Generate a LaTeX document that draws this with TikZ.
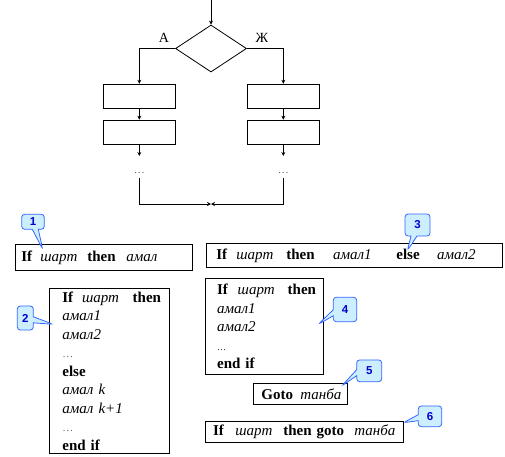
\documentclass[tikz,border=0pt]{standalone}
\usepackage{fontspec}
\setmainfont{Liberation Serif}
\newfontfamily\numfont{Liberation Sans}
\usetikzlibrary{shapes.geometric,shapes.callouts,arrows.meta}
\definecolor{notefill}{RGB}{204,238,255}
\definecolor{noteline}{RGB}{51,102,255}
\definecolor{noteblue}{RGB}{0,0,204}
% слово в поле заданной ширины
\newcommand{\wordbox}[2]{\makebox[#1][l]{#2}}
\newcommand{\dotsgray}{\textcolor{black!60}{\fontsize{11}{11}\selectfont …}}
\tikzset{
  arr/.style={-{Stealth[length=4pt,width=4pt]}},
  block/.style={draw, minimum width=72pt, minimum height=24pt, inner sep=0pt},
  codebox/.style={draw, inner xsep=#1, inner ysep=0pt, align=left, anchor=north west,
    font=\fontsize{15}{18.5}\selectfont},
  note/.style={rectangle callout, draw=noteline, fill=notefill, rounded corners=3pt,
    inner sep=0pt, text=noteblue, callout pointer width=6pt,
    font=\numfont\bfseries\fontsize{11.5}{11.5}\selectfont},
}
\begin{document}
\begin{tikzpicture}[x=1pt, y=-1pt, line width=0.8pt]
\useasboundingbox (0,0) rectangle (505,456);

% блок-схема
\coordinate (start) at (211,0);
\node[diamond, draw, minimum width=71pt, minimum height=47pt, inner sep=0pt] (cond) at (211,48.5) {};
\node[font=\fontsize{14}{14}\selectfont] (yes) at (164,38) {А};
\node[font=\fontsize{14}{14}\selectfont] (no) at (262,38) {Ж};
\node[block] (l1) at (139.3,96.2) {};
\node[block] (l2) at (139.3,132.1) {};
\node[block] (r1) at (283.3,96.2) {};
\node[block] (r2) at (283.3,132.1) {};
\coordinate (l3) at (139.3,156);
\coordinate (r3) at (283.3,156);
\node[inner ysep=4pt] (ldots) at (139.3,173) {\dotsgray};
\node[inner ysep=4pt] (rdots) at (283.3,173) {\dotsgray};
\coordinate (join) at (211,204);

\draw[arr] (start) -- (cond.north);
\draw[arr] (cond.west) -| (l1.north);
\draw[arr] (cond.east) -| (r1.north);
\draw[arr] (l1) -- (l2);
\draw[arr] (r1) -- (r2);
\draw[arr] (l2) -- (l3);
\draw[arr] (r2) -- (r3);
\draw[arr] (ldots.south) |- (join);
\draw[arr] (rdots.south) |- (join);

% шарт операторлары
\node[codebox=6pt, text width=164.7pt, minimum height=25.7pt] (b1) at (15,244.3)
  {\wordbox{19pt}{\textbf{If}}\wordbox{47pt}{\textit{шарт}}\wordbox{39pt}{\textbf{then}}\textit{амал}};
\node[codebox=10pt, text width=275.7pt, minimum height=24pt] (b3) at (206,243.3)
  {\wordbox{20pt}{\textbf{If}}\wordbox{50pt}{\textit{шарт}}\wordbox{46.7pt}{\textbf{then}}\wordbox{63.3pt}{\textit{амал1}}\wordbox{40.7pt}{\textbf{else}}\textit{амал2}};
\node[codebox=12.7pt, text width=94.6pt, minimum height=165pt] (b2) at (49.3,288.3)
  {\wordbox{19.7pt}{\textbf{If}}\wordbox{50.6pt}{\textit{шарт}}\textbf{then}\\
   \textit{амал1}\\
   \textit{амал2}\\
   \dotsgray\\
   \textbf{else}\\
   \textit{амал k}\\
   \textit{амал k+1}\\
   \dotsgray\\
   \textbf{end if}};
\node[codebox=11.7pt, text width=95pt, minimum height=95.7pt] (b4) at (205,278.3)
  {\wordbox{20.6pt}{\textbf{If}}\wordbox{50pt}{\textit{шарт}}\textbf{then}\\
   \textit{амал1}\\
   \textit{амал2}\\
   {\fontsize{9}{9}\selectfont …}\\
   \textbf{end if}};
\node[codebox=7.7pt, text width=78pt, minimum height=20.7pt] (b5) at (253.3,383.3)
  {\wordbox{39pt}{\textbf{Goto}}\textit{танба}};
\node[codebox=7.7pt, text width=183pt, minimum height=21pt] (b6) at (205,420.7)
  {\wordbox{22.3pt}{\textbf{If}}\wordbox{48pt}{\textit{шарт}}\wordbox{71pt}{\textbf{then goto}}\textit{танба}};

% белгилер
\coordinate (t1) at (42.7,249.3);
\coordinate (t2) at (53.3,324.3);
\coordinate (t3) at (407.3,250.7);
\coordinate (t4) at (318.3,324.3);
\coordinate (t5) at (341.7,386);
\coordinate (t6) at (403.3,422.7);
\node[note, minimum width=22.6pt, minimum height=15pt, callout absolute pointer={(t1)}] (n1) at (33,221.8) {1};
\node[note, minimum width=16pt, minimum height=24pt, callout absolute pointer={(t2)}] (n2) at (25.3,318) {2};
\node[note, minimum width=25pt, minimum height=22pt, callout absolute pointer={(t3)}] (n3) at (417.5,225) {3};
\node[note, minimum width=23.4pt, minimum height=24.4pt, callout absolute pointer={(t4)}] (n4) at (345,309.5) {4};
\node[note, minimum width=25pt, minimum height=21.7pt, callout absolute pointer={(t5)}] (n5) at (369.2,370.8) {5};
\node[note, minimum width=23.4pt, minimum height=20.7pt, callout absolute pointer={(t6)}] (n6) at (430,416.3) {6};
\end{tikzpicture}
\end{document}
